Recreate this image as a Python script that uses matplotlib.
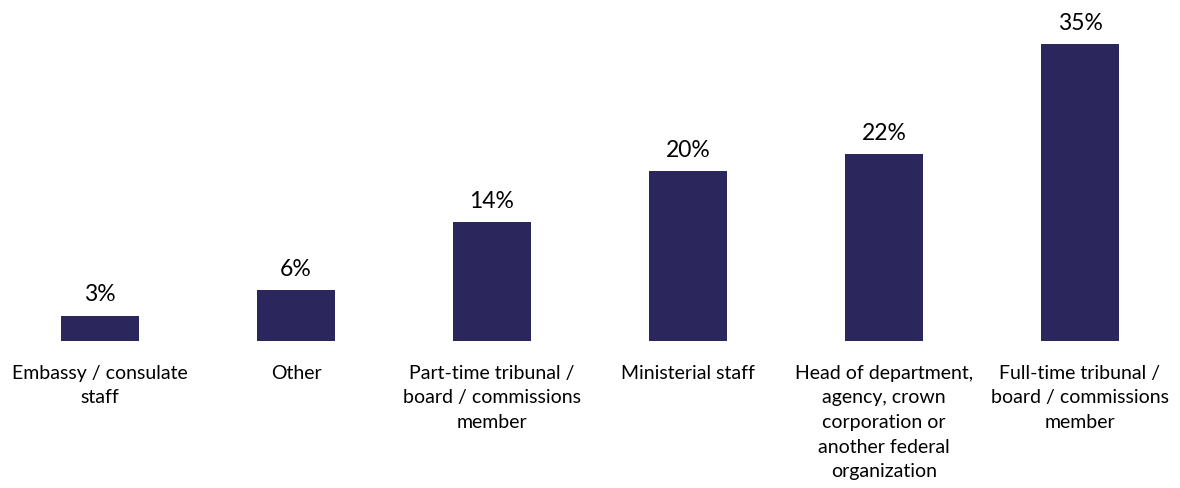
import matplotlib
matplotlib.use("Agg")
from matplotlib import pyplot as plt
import numpy as np

categories = [
    "Embassy / consulate\nstaff",
    "Other",
    "Part-time tribunal /\nboard / commissions\nmember",
    "Ministerial staff",
    "Head of department,\nagency, crown\ncorporation or\nanother federal\norganization",
    "Full-time tribunal /\nboard / commissions\nmember",
]
values = [3, 6, 14, 20, 22, 35]

bar_color = "#2B265C"

plt.rcParams["font.family"] = ["Lato", "DejaVu Sans"]

fig = plt.figure(figsize=(11.8, 4.89), dpi=100)
ax = fig.add_axes([2 / 1180, (489 - 342) / 489, 1176 / 1180, (342 - 45) / 489])

x = np.arange(len(values))
bars = ax.bar(x, values, 0.4, color=bar_color)

for xi, v in zip(x, values):
    ax.annotate(f"{v}%", (xi, v), xytext=(0, 8), textcoords="offset points",
                ha="center", va="bottom", fontsize=16.5, color="#000000")

for xi, label in zip(x, categories):
    ax.annotate(label, (xi, 0), xytext=(0, -16.5), textcoords="offset points",
                ha="center", va="top", fontsize=14, color="#000000",
                linespacing=1.54)

ax.set_xlim(-0.5, len(values) - 0.5)
ax.set_ylim(0, 35)
ax.axis("off")

fig.savefig("out.png", dpi=100)
